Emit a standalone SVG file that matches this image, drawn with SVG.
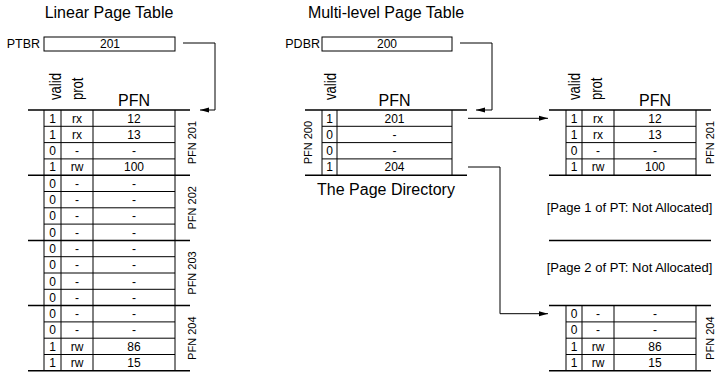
<svg xmlns="http://www.w3.org/2000/svg" width="717" height="372" viewBox="0 0 717 372">
<style>
text{font-family:"Liberation Sans",Arial,sans-serif;fill:#000}
.t{font-size:16px;text-anchor:middle}
.l{font-size:12.5px}
.c{font-size:12px;text-anchor:middle}
.h{font-size:16px}
.g{font-size:11px;text-anchor:middle}
.n{font-size:13px;text-anchor:middle}
.th{stroke:#000;stroke-width:1.5;fill:none}
.ln{stroke:#000;stroke-width:1;fill:none}
.box{stroke:#000;stroke-width:1;fill:#fff}
.cn{stroke:#000;stroke-width:1;fill:none;marker-end:url(#ah)}
</style>
<defs>
<marker id="ah" markerUnits="userSpaceOnUse" markerWidth="10" markerHeight="8" refX="9" refY="3" orient="auto" viewBox="0 0 10 6">
<path d="M0,0.5 L9,3 L0,5.5 Z" fill="#000"/>
</marker>
</defs>

<g id="title-linear"><text class="t" x="109" y="18">Linear Page Table</text></g>
<g id="title-multi"><text class="t" x="386" y="18">Multi-level Page Table</text></g>

<g id="ptbr">
<text class="l" x="40" y="48" text-anchor="end">PTBR</text>
<rect class="box" x="44" y="37" width="131" height="14"/>
<text class="c" x="110" y="48">201</text>
</g>

<g id="pdbr">
<text class="l" x="320" y="48" text-anchor="end">PDBR</text>
<rect class="box" x="322" y="37" width="130" height="14"/>
<text class="c" x="387" y="48">200</text>
</g>

<g id="linear-table">
<text class="h" transform="translate(61,100) rotate(-90)" textLength="27" lengthAdjust="spacingAndGlyphs">valid</text>
<text class="h" transform="translate(83,100) rotate(-90)" textLength="22.5" lengthAdjust="spacingAndGlyphs">prot</text>
<text class="t" x="134" y="106">PFN</text>
<path class="ln" d="M44,110V370.8M61,110V370.8M93,110V370.8M175,110V370.8"/>
<path class="ln" d="M44,126.3H175M44,142.6H175M44,158.9H175M44,191.5H175M44,207.8H175M44,224.1H175M44,256.7H175M44,273H175M44,289.3H175M44,321.9H175M44,338.2H175M44,354.5H175"/>
<path class="th" d="M28,110H190M28,175.2H190M28,240.4H190M28,305.6H190M28,370.8H190"/>
<g class="c">
<text class="c" x="52.5" y="122.5">1</text><text class="c" x="77" y="122.5">rx</text><text class="c" x="134" y="122.5">12</text>
<text class="c" x="52.5" y="138.8">1</text><text class="c" x="77" y="138.8">rx</text><text class="c" x="134" y="138.8">13</text>
<text class="c" x="52.5" y="155.1">0</text><text class="c" x="77" y="155.1">-</text><text class="c" x="134" y="155.1">-</text>
<text class="c" x="52.5" y="171.4">1</text><text class="c" x="77" y="171.4">rw</text><text class="c" x="134" y="171.4">100</text>
<text class="c" x="52.5" y="187.7">0</text><text class="c" x="77" y="187.7">-</text><text class="c" x="134" y="187.7">-</text>
<text class="c" x="52.5" y="204">0</text><text class="c" x="77" y="204">-</text><text class="c" x="134" y="204">-</text>
<text class="c" x="52.5" y="220.3">0</text><text class="c" x="77" y="220.3">-</text><text class="c" x="134" y="220.3">-</text>
<text class="c" x="52.5" y="236.6">0</text><text class="c" x="77" y="236.6">-</text><text class="c" x="134" y="236.6">-</text>
<text class="c" x="52.5" y="252.9">0</text><text class="c" x="77" y="252.9">-</text><text class="c" x="134" y="252.9">-</text>
<text class="c" x="52.5" y="269.2">0</text><text class="c" x="77" y="269.2">-</text><text class="c" x="134" y="269.2">-</text>
<text class="c" x="52.5" y="285.5">0</text><text class="c" x="77" y="285.5">-</text><text class="c" x="134" y="285.5">-</text>
<text class="c" x="52.5" y="301.8">0</text><text class="c" x="77" y="301.8">-</text><text class="c" x="134" y="301.8">-</text>
<text class="c" x="52.5" y="318.1">0</text><text class="c" x="77" y="318.1">-</text><text class="c" x="134" y="318.1">-</text>
<text class="c" x="52.5" y="334.4">0</text><text class="c" x="77" y="334.4">-</text><text class="c" x="134" y="334.4">-</text>
<text class="c" x="52.5" y="350.7">1</text><text class="c" x="77" y="350.7">rw</text><text class="c" x="134" y="350.7">86</text>
<text class="c" x="52.5" y="367">1</text><text class="c" x="77" y="367">rw</text><text class="c" x="134" y="367">15</text>
</g>
<text class="g" transform="translate(195.5,142.6) rotate(-90)">PFN 201</text>
<text class="g" transform="translate(195.5,207.8) rotate(-90)">PFN 202</text>
<text class="g" transform="translate(195.5,273) rotate(-90)">PFN 203</text>
<text class="g" transform="translate(195.5,338.2) rotate(-90)">PFN 204</text>
</g>

<g id="page-directory">
<text class="h" transform="translate(335.5,100) rotate(-90)" textLength="27" lengthAdjust="spacingAndGlyphs">valid</text>
<text class="t" x="394.5" y="106">PFN</text>
<path class="ln" d="M322,110V175.2M337,110V175.2M452,110V175.2"/>
<path class="ln" d="M322,126.3H452M322,142.6H452M322,158.9H452"/>
<path class="th" d="M305,110H467M305,175.2H467"/>
<text class="c" x="329.5" y="122.5">1</text><text class="c" x="394.5" y="122.5">201</text>
<text class="c" x="329.5" y="138.8">0</text><text class="c" x="394.5" y="138.8">-</text>
<text class="c" x="329.5" y="155.1">0</text><text class="c" x="394.5" y="155.1">-</text>
<text class="c" x="329.5" y="171.4">1</text><text class="c" x="394.5" y="171.4">204</text>
<text class="g" transform="translate(311.5,142.6) rotate(-90)">PFN 200</text>
<text class="t" x="386" y="195">The Page Directory</text>
</g>

<g id="pt-pfn201">
<text class="h" transform="translate(580,100) rotate(-90)" textLength="27" lengthAdjust="spacingAndGlyphs">valid</text>
<text class="h" transform="translate(602,100) rotate(-90)" textLength="22.5" lengthAdjust="spacingAndGlyphs">prot</text>
<text class="t" x="655" y="106">PFN</text>
<path class="ln" d="M566,110V175.2M582,110V175.2M614,110V175.2M696,110V175.2"/>
<path class="ln" d="M566,126.3H696M566,142.6H696M566,158.9H696"/>
<path class="th" d="M549,110H711M549,175.2H711"/>
<text class="c" x="574" y="122.5">1</text><text class="c" x="598" y="122.5">rx</text><text class="c" x="655" y="122.5">12</text>
<text class="c" x="574" y="138.8">1</text><text class="c" x="598" y="138.8">rx</text><text class="c" x="655" y="138.8">13</text>
<text class="c" x="574" y="155.1">0</text><text class="c" x="598" y="155.1">-</text><text class="c" x="655" y="155.1">-</text>
<text class="c" x="574" y="171.4">1</text><text class="c" x="598" y="171.4">rw</text><text class="c" x="655" y="171.4">100</text>
<text class="g" transform="translate(714,142.6) rotate(-90)">PFN 201</text>
</g>

<g id="pt-page1">
<text class="n" x="629.5" y="212">[Page 1 of PT: Not Allocated]</text>
<path class="th" d="M549,240.4H711"/>
</g>
<g id="pt-page2">
<text class="n" x="629.5" y="272">[Page 2 of PT: Not Allocated]</text>
</g>

<g id="pt-pfn204">
<path class="ln" d="M566,305.6V370.8M582,305.6V370.8M614,305.6V370.8M696,305.6V370.8"/>
<path class="ln" d="M566,321.9H696M566,338.2H696M566,354.5H696"/>
<path class="th" d="M549,305.6H711M549,370.8H711"/>
<text class="c" x="574" y="318.1">0</text><text class="c" x="598" y="318.1">-</text><text class="c" x="655" y="318.1">-</text>
<text class="c" x="574" y="334.4">0</text><text class="c" x="598" y="334.4">-</text><text class="c" x="655" y="334.4">-</text>
<text class="c" x="574" y="350.7">1</text><text class="c" x="598" y="350.7">rw</text><text class="c" x="655" y="350.7">86</text>
<text class="c" x="574" y="367">1</text><text class="c" x="598" y="367">rw</text><text class="c" x="655" y="367">15</text>
<text class="g" transform="translate(714,338.2) rotate(-90)">PFN 204</text>
</g>

<g id="connectors">
<path class="cn" d="M183,43H215V110H200"/>
<path class="cn" d="M460,43H492V110H476"/>
<path class="cn" d="M468,118.3H548"/>
<path class="cn" d="M468,167H500V313.7H548"/>
</g>
</svg>
